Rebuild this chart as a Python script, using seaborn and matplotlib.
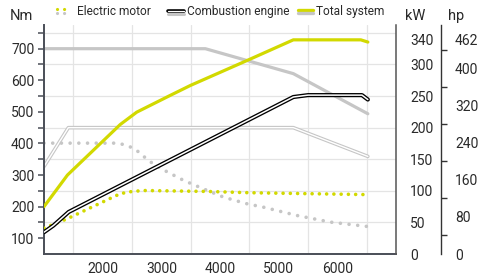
import numpy as np
import pandas as pd
import matplotlib
matplotlib.use("Agg")
import matplotlib.pyplot as plt
import seaborn as sns
from matplotlib.lines import Line2D

# ---------------- data ----------------
# torque curves, Nm (left axis)
rpm_total_torque = [1000, 3750, 5250, 6520]
total_torque_nm = [700, 700, 621, 494]

rpm_ice_torque = [1000, 1415, 5250, 6520]
ice_torque_nm = [327, 450, 450, 359]

rpm_em_torque = [1000, 2270, 2450, 2580, 2750, 2900, 3060, 3380, 3720, 4060,
                 4460, 4745, 5310, 5880, 6520]
em_torque_nm = [401, 401, 391, 378, 351, 330, 314, 283, 256, 230,
                209, 198, 172, 151, 137]

# power curves, kW (right axis)
rpm_total_power = [1000, 1400, 2300, 2580, 3150, 3500, 4490, 5250, 6400, 6520]
total_power_kw = [75, 125, 205, 224.5, 251, 267, 307.5, 339, 339, 335.5]

rpm_ice_power = [1000, 1160, 1420, 5250, 5500, 6420, 6520]
ice_power_kw = [34.5, 45, 66.5, 248.5, 251.5, 251.5, 244.5]

rpm_em_power = [1000, 1390, 2300, 2500, 2700, 3800, 4500, 5500, 6520]
em_power_kw = [41, 55.5, 95.5, 99, 100.5, 99, 97, 95.5, 94]

nm_ticks = [100, 200, 300, 400, 500, 600, 700]
kw_ticks = [0, 50, 100, 150, 200, 250, 300, 340]
hp_ticks = [0, 80, 160, 240, 320, 400, 462]
rpm_ticks = [2000, 3000, 4000, 5000, 6000]

legend_labels = ["Electric motor", "Combustion engine", "Total system"]

# ---------------- styling ----------------
YELLOW = "#d2d900"
GRAY = "#c6c6c6"
GRID = "#e4e4e4"
SPINE = "#4a4e57"
TXT = "#2a2a2a"
KW_PER_HP = 1.35962

sns.set_style("white")
plt.rcParams["font.family"] = ["Roboto", "DejaVu Sans"]

fig = plt.figure(figsize=(4.87, 2.75), dpi=100)
W, H = 487, 275
L, R, B, T = 44, 396, 254, 25
ax = fig.add_axes([L / W, 1 - B / H, (R - L) / W, (B - T) / H])
axp = ax.twinx()
axh = ax.twinx()

ax.set_xlim(1000, 7000)
ax.set_ylim(50, 775)
axp.set_ylim(0, 362.5)
axh.set_ylim(0, 362.5 * KW_PER_HP)

# grid
ax.set_xticks(np.arange(1500, 7000, 500), minor=True)
ax.set_yticks(np.arange(100, 776, 50), minor=True)
ax.grid(True, which="minor", color=GRID, lw=0.9)
ax.grid(False, which="major")

# spines
for a in (ax, axp, axh):
    for s in a.spines.values():
        s.set_visible(False)
ax.spines["left"].set_visible(True)
ax.spines["bottom"].set_visible(True)
ax.spines["left"].set_color(SPINE)
ax.spines["bottom"].set_color(SPINE)
ax.spines["left"].set_linewidth(1.4)
ax.spines["bottom"].set_linewidth(1.4)
axp.spines["right"].set_visible(True)
axp.spines["right"].set_color("#555555")
axp.spines["right"].set_linewidth(1.1)
axh.spines["right"].set_visible(True)
axh.spines["right"].set_position(("axes", 1.128))
axh.spines["right"].set_color("#333333")
axh.spines["right"].set_linewidth(1.0)

# torque lines (left axis)
sns.lineplot(x=rpm_total_torque, y=total_torque_nm, ax=ax, color=GRAY, lw=2.3)
sns.lineplot(x=rpm_ice_torque, y=ice_torque_nm, ax=ax, color=GRAY, lw=2.6)
sns.lineplot(x=rpm_ice_torque, y=ice_torque_nm, ax=ax, color="white", lw=1.0)
sns.lineplot(x=rpm_em_torque, y=em_torque_nm, ax=ax, color=GRAY, lw=2.6,
             linestyle=(0, (0.01, 2.4)), dash_capstyle="round")

# power lines (kW axis)
sns.lineplot(x=rpm_em_power, y=em_power_kw, ax=axp, color=YELLOW, lw=2.6,
             linestyle=(0, (0.01, 2.0)), dash_capstyle="round")
sns.lineplot(x=rpm_ice_power, y=ice_power_kw, ax=axp, color="black", lw=3.0)
sns.lineplot(x=rpm_ice_power, y=ice_power_kw, ax=axp, color="white", lw=1.1)
sns.lineplot(x=rpm_total_power, y=total_power_kw, ax=axp, color=YELLOW, lw=2.3)

# ticks
ax.set_xticks([1000, 2000, 3000, 4000, 5000, 6000, 7000])
ax.set_xticklabels([""] + [str(v) for v in rpm_ticks] + [""])
ax.set_yticks(nm_ticks)
ax.set_yticklabels([str(v) for v in nm_ticks])
ax.tick_params(axis="x", which="major", direction="out", length=4, width=1.1,
               color=SPINE, labelsize=10, labelcolor=TXT, pad=2)
ax.tick_params(axis="x", which="minor", length=0)
ax.tick_params(axis="y", which="both", direction="out", length=4, width=1.1,
               color=SPINE, labelsize=10, labelcolor=TXT, pad=3)
ax.set_xlabel("")
ax.set_ylabel("")

axp.set_yticks(kw_ticks)
axp.set_yticklabels([str(v) for v in kw_ticks])
axp.tick_params(axis="y", length=0, labelsize=10, labelcolor=TXT, pad=10)
axp.set_ylabel("")

axh.set_yticks(hp_ticks)
axh.set_yticklabels([str(v) for v in hp_ticks])
axh.set_yticks([0, 40, 120, 200, 280, 360, 440, 462], minor=True)
axh.tick_params(axis="y", which="major", length=0, labelsize=10,
                labelcolor=TXT, pad=10)
axh.tick_params(axis="y", which="minor", length=4, width=1.0,
                direction="out", color="#333333")
axh.set_ylabel("")

# header texts
fig.text(10 / W, 1 - 20 / H, "Nm", fontsize=10.5, color=TXT, va="baseline")
fig.text(405 / W, 1 - 20 / H, "kW", fontsize=10.5, color=TXT, va="baseline")
fig.text(448 / W, 1 - 20 / H, "hp", fontsize=10.5, color=TXT, va="baseline")

# legend (manual)
def fl(x0, x1, y, **kw):
    fig.add_artist(Line2D([x0 / W, x1 / W], [1 - y / H, 1 - y / H],
                          transform=fig.transFigure, **kw))

fl(57, 70, 9.3, color=YELLOW, lw=2.3, linestyle=(0, (0.01, 2.2)),
   dash_capstyle="round")
fl(57, 70, 13.3, color=GRAY, lw=2.3, linestyle=(0, (0.01, 2.2)),
   dash_capstyle="round")
fl(168, 184, 14, color=GRAY, lw=2.2)
fl(168, 184, 11.3, color="black", lw=2.6)
fl(168, 184, 11.3, color="white", lw=0.9)
fl(298, 313, 10, color=YELLOW, lw=2.4)
fl(298, 313, 13, color=GRAY, lw=2.4)

fig.text(77 / W, 1 - 11.5 / H, legend_labels[0], fontsize=8.6, color=TXT,
         va="center")
fig.text(187 / W, 1 - 11.5 / H, legend_labels[1], fontsize=8.6, color=TXT,
         va="center")
fig.text(316 / W, 1 - 11.5 / H, legend_labels[2], fontsize=8.6, color=TXT,
         va="center")

fig.savefig("out.png", dpi=100)
